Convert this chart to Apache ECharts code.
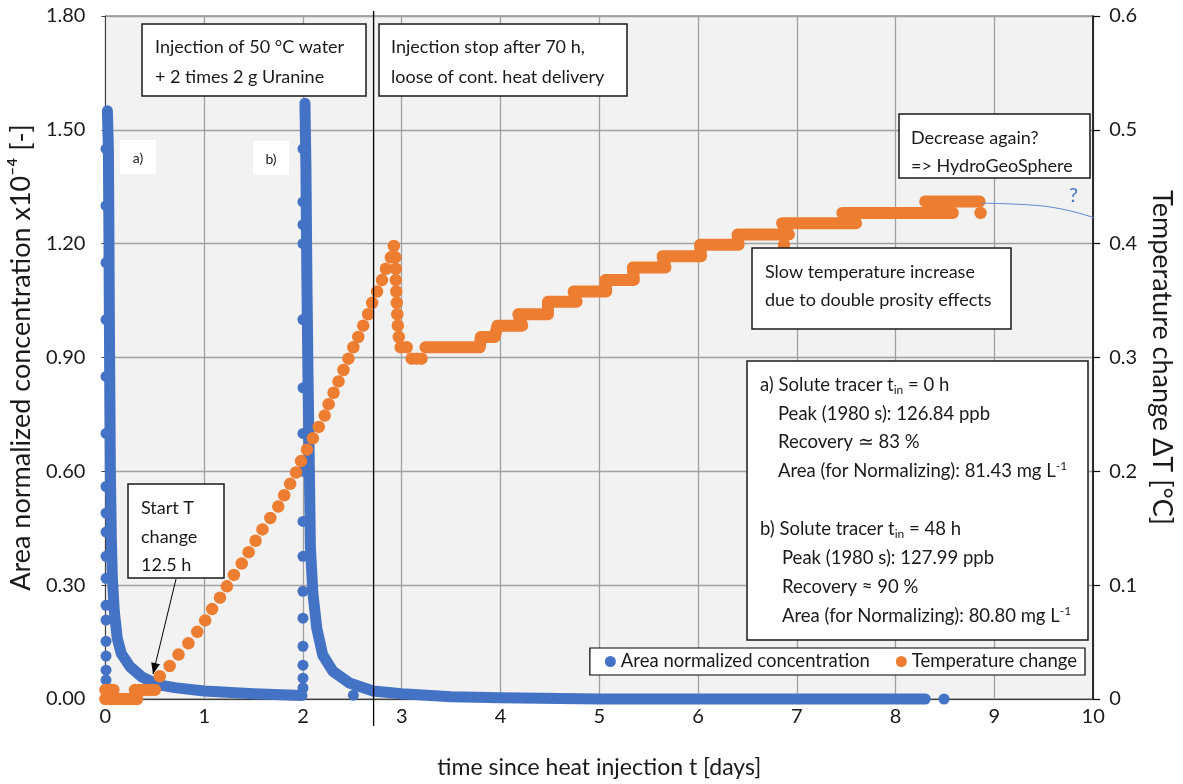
<!DOCTYPE html>
<html><head><meta charset="utf-8">
<script src="https://cdn.jsdelivr.net/npm/echarts@6/dist/echarts.min.js"></script>
<style>html,body{margin:0;padding:0;background:#fff}#c{width:1183px;height:784px}</style>
</head><body><div id="c"></div>
<script>
// ---------- data ----------
const xTicks = [0,1,2,3,4,5,6,7,8,9,10];
const leftTicks = [0,0.3,0.6,0.9,1.2,1.5,1.8];
const rightTicks = [0,0.1,0.2,0.3,0.4,0.5,0.6];
const stopLineT = 2.715;

// Area normalized concentration (x1e-4) [t days, value]
const concRiseA = [[0.006,0.05],[0.006,0.076],[0.006,0.113],[0.006,0.152],[0.006,0.208],[0.006,0.247],[0.006,0.318],[0.006,0.376],[0.006,0.44],[0.006,0.49],[0.006,0.56],[0.006,0.7],[0.006,0.85],[0.006,1.0],[0.006,1.15],[0.006,1.3],[0.006,1.45]];
const concDecayA = [[0.02,1.55],[0.03,1.45],[0.035,1.25],[0.04,1.0],[0.045,0.8],[0.05,0.6],[0.06,0.42],[0.07,0.32],[0.09,0.23],[0.12,0.16],[0.16,0.12],[0.25,0.085],[0.37,0.058],[0.53,0.038],[0.7,0.03],[1.0,0.021],[1.5,0.014],[1.99,0.009]];
const concRiseB = [[2.0,0.029],[2.0,0.055],[2.0,0.089],[2.0,0.139],[2.0,0.213],[2.0,0.284],[2.0,0.376],[2.0,0.468],[2.0,0.6],[2.0,0.7],[2.0,0.82],[2.0,1.0],[2.0,1.2],[2.0,1.25],[2.0,1.31],[2.0,1.45]];
const concDecayB = [[2.02,1.57],[2.03,1.4],[2.04,1.1],[2.05,0.87],[2.065,0.6],[2.075,0.4],[2.1,0.28],[2.14,0.186],[2.2,0.116],[2.3,0.074],[2.47,0.042],[2.71,0.021],[3.0,0.014],[3.5,0.006],[4.0,0.003],[5.0,0.0],[6.0,0.0],[7.0,0.0],[8.0,0.0],[8.3,0.0]];
const concStray = [[2.51,0.01],[8.49,0.0]];

// Temperature change [t days, dT °C]
const tempEarly = [[0.0,0.008],[0.03,0.008],[0.06,0.008],[0.08,0.008],[0.0,0.0],[0.04,0.0],[0.08,0.0],[0.12,0.0],[0.16,0.0],[0.2,0.0],[0.24,0.0],[0.28,0.0],[0.32,0.0],[0.3,0.008],[0.34,0.008],[0.38,0.008],[0.42,0.008],[0.46,0.008],[0.5,0.008]];
const tempRise = [[0.55,0.020],[0.65,0.029],[0.74,0.039],[0.84,0.049],[0.93,0.059],[1.01,0.069],[1.08,0.079],[1.16,0.089],[1.23,0.099],[1.30,0.109],[1.38,0.119],[1.45,0.129],[1.52,0.139],[1.59,0.149],[1.67,0.159],[1.75,0.169],[1.81,0.179],[1.87,0.189],[1.93,0.199],[1.98,0.209],[2.04,0.219],[2.10,0.229],[2.16,0.239],[2.22,0.249],[2.26,0.259],[2.31,0.269],[2.36,0.279],[2.41,0.289],[2.46,0.299],[2.51,0.309],[2.56,0.318],[2.61,0.328],[2.66,0.338],[2.70,0.348],[2.75,0.358],[2.80,0.368],[2.84,0.378],[2.89,0.388],[2.92,0.398]];
const tempFall = [[2.935,0.388],[2.94,0.378],[2.94,0.368],[2.945,0.358],[2.95,0.348],[2.955,0.338],[2.96,0.328],[2.97,0.318],[2.99,0.309],[3.05,0.309],[3.1,0.299],[3.15,0.299],[3.2,0.299]];
const tempPlateau = [[3.24,0.309],[3.79,0.309],[3.80,0.318],[3.94,0.318],[3.97,0.328],[4.22,0.328],[4.18,0.338],[4.48,0.338],[4.48,0.349],[4.77,0.349],[4.74,0.358],[5.07,0.358],[5.06,0.368],[5.35,0.368],[5.34,0.379],[5.67,0.379],[5.64,0.389],[6.03,0.389],[6.02,0.399],[6.41,0.399],[6.40,0.408],[6.92,0.408],[6.85,0.418],[7.6,0.418],[7.46,0.427],[8.58,0.427],[8.3,0.437],[8.85,0.437]];
const tempStray = [[6.87,0.399],[8.86,0.427]];
const extrapolation = [[8.87,0.4355],[9.44,0.4335],[10.05,0.4215]];

// ---------- chart ----------
const FONT = 'Lato';
const BLUE = '#4472c4', ORANGE = '#ed7d31', TXT = '#1a1a1a';
const chart = echarts.init(document.getElementById('c'), null, {renderer:'canvas'});

const option = {
  animation:false,
  backgroundColor:'#ffffff',
  textStyle:{fontFamily:FONT},
  grid:{left:104,right:88,top:16,bottom:83,show:true,backgroundColor:'#f2f2f2',borderColor:'#595959',borderWidth:1},
  legend:{
    data:[{name:'Area normalized concentration',icon:'circle'},{name:'Temperature change',icon:'circle'}],
    right:98, top:648, orient:'horizontal',
    backgroundColor:'#ffffff', borderColor:'#000', borderWidth:1.2, borderRadius:0,
    padding:[4,8,4,15], itemGap:26, itemWidth:11, itemHeight:11,
    textStyle:{fontFamily:FONT,fontSize:18.5,color:TXT}
  },
  xAxis:{
    type:'value', min:xTicks[0], max:xTicks[xTicks.length-1], interval:1,
    name:'time since heat injection t [days]', nameLocation:'middle', nameGap:57,
    nameTextStyle:{fontFamily:FONT,fontSize:23,color:TXT},
    axisLine:{show:true,onZero:false,lineStyle:{color:'#404040',width:1}},
    axisTick:{show:false},
    axisLabel:{fontFamily:FONT,fontSize:20,color:TXT,margin:8},
    splitLine:{show:true,lineStyle:{color:'#a0a0a0',width:1.3}}
  },
  yAxis:[{
    type:'value', min:leftTicks[0], max:leftTicks[leftTicks.length-1], interval:0.3,
    name:'Area normalized concentration x10\u207B\u2074 [-]', nameLocation:'middle', nameRotate:90, nameGap:66,
    nameTextStyle:{fontFamily:FONT,fontSize:27,color:TXT},
    axisLine:{show:true,lineStyle:{color:'#404040'}},
    axisTick:{show:true,length:4,lineStyle:{color:'#404040'}},
    axisLabel:{fontFamily:FONT,fontSize:20,color:TXT,margin:20,formatter:v=>v.toFixed(2)},
    splitLine:{show:true,lineStyle:{color:'#a0a0a0',width:1.3}}
  },{
    type:'value', min:rightTicks[0], max:rightTicks[rightTicks.length-1], interval:0.1, position:'right',
    name:'Temperature change \u0394T [\u00B0C]', nameLocation:'middle', nameRotate:-90, nameGap:54,
    nameTextStyle:{fontFamily:FONT,fontSize:27,color:TXT},
    axisLine:{show:true,lineStyle:{color:'#000',width:1.5}},
    axisTick:{show:true,length:7,lineStyle:{color:'#000',width:1.2}},
    axisLabel:{fontFamily:FONT,fontSize:20,color:TXT,margin:16,formatter:v=>String(+v.toFixed(1))},
    splitLine:{show:false}
  }],
  series:[
    {name:'Area normalized concentration',type:'line',data:concDecayA,yAxisIndex:0,symbol:'none',clip:false,z:2,
      lineStyle:{width:11,color:BLUE,cap:'round',join:'round'},itemStyle:{color:BLUE}},
    {name:'Area normalized concentration',type:'line',data:concDecayB,yAxisIndex:0,symbol:'none',clip:false,z:2,
      lineStyle:{width:11,color:BLUE,cap:'round',join:'round'},itemStyle:{color:BLUE}},
    {name:'Area normalized concentration',type:'scatter',data:concRiseA.concat(concRiseB,concStray),yAxisIndex:0,clip:false,z:2,
      symbolSize:11,itemStyle:{color:BLUE,opacity:1}},
    {name:'Temperature change',type:'scatter',data:tempEarly.concat(tempRise,tempFall,tempStray),yAxisIndex:1,clip:false,z:3,
      symbolSize:12.5,itemStyle:{color:ORANGE,opacity:1}},
    {name:'Temperature change',type:'line',data:tempPlateau,yAxisIndex:1,symbol:'none',clip:false,z:3,
      lineStyle:{width:12,color:ORANGE,cap:'round',join:'round'},itemStyle:{color:ORANGE}},
    {name:'HGS extrapolation',type:'line',data:extrapolation,yAxisIndex:1,symbol:'none',smooth:true,clip:false,z:4,
      lineStyle:{width:1,color:'#5b8ad6'}}
  ]
};
chart.setOption(option);

// ---------- annotations ----------
const g = [];
function rect(x,y,w,h,border){
  g.push({type:'rect',shape:{x:x,y:y,width:w,height:h},z:20,
    style:{fill:'#ffffff',stroke:border?'#1a1a1a':null,lineWidth:border?1.5:0}});
}
function txt(x,y,text,size,extra){
  g.push({type:'text',x:x,y:y,z:21,style:Object.assign({text:text,font:size+'px '+FONT,fill:TXT,verticalAlign:'middle',align:'left'},extra||{})});
}
const rich = {
  n:{fontSize:18.5,fontFamily:FONT,fill:TXT,lineHeight:22},
  sub:{fontSize:12,fontFamily:FONT,fill:TXT,verticalAlign:'bottom',lineHeight:22,padding:[9,0,0,0]},
  sup:{fontSize:12,fontFamily:FONT,fill:TXT,verticalAlign:'top',lineHeight:22,padding:[0,0,9,0]}
};
function rtxt(x,y,text){
  g.push({type:'text',x:x,y:y,z:21,style:{text:text,rich:rich,verticalAlign:'middle',align:'left',font:'18.5px '+FONT,fill:TXT}});
}

// stop-of-injection vertical line
const xStop = chart.convertToPixel({xAxisIndex:0}, stopLineT);
g.push({type:'line',z:19,shape:{x1:xStop,y1:11,x2:xStop,y2:726},style:{stroke:'#000',lineWidth:1.3}});

rect(142,24,224,72,true);
txt(155,47,'Injection of 50 \u00B0C water',18);
txt(155,77,'+ 2 times 2 g Uranine',18);

rect(379,24,248,72,true);
txt(391,47,'Injection stop after 70 h,',18);
txt(391,77,'loose of cont. heat delivery',18);

rect(120,140,36,34,false);
txt(138,158,'a)',14,{align:'center'});
rect(253,141,36,34,false);
txt(271,159,'b)',14,{align:'center'});

rect(899,114,191,64,true);
txt(911,138,'Decrease again?',18);
txt(911,166,'=> HydroGeoSphere',18);
txt(1069,196,'?',20,{fill:'#4472c4'});

rect(752,248,259,81,true);
txt(765,272,'Slow temperature increase',18);
txt(765,300,'due to double prosity effects',18);

rect(747,361,341,279,true);
rtxt(760,385,'{n|a) Solute tracer t}{sub|in}{n| = 0 h}');
rtxt(778,414,'{n|Peak (1980 s): 126.84 ppb}');
rtxt(778,442,'{n|Recovery \u2243 83 %}');
rtxt(778,471,'{n|Area (for Normalizing): 81.43 mg L}{sup|-1}');
rtxt(760,529,'{n|b) Solute tracer t}{sub|in}{n| = 48 h}');
rtxt(782,558,'{n|Peak (1980 s): 127.99 ppb}');
rtxt(782,587,'{n|Recovery \u2248 90 %}');
rtxt(782,616,'{n|Area (for Normalizing): 80.80 mg L}{sup|-1}');

rect(128,484,96,94,true);
txt(141,508,'Start T',18);
txt(141,537,'change',18);
txt(141,565,'12.5 h',18);

// arrow
(function(){
  const x1=176,y1=579,x2=153,y2=674;
  g.push({type:'line',z:22,shape:{x1:x1,y1:y1,x2:x2,y2:y2},style:{stroke:'#000',lineWidth:1}});
  const dx=x2-x1, dy=y2-y1, L=Math.sqrt(dx*dx+dy*dy), ux=dx/L, uy=dy/L, px=-uy, py=ux;
  const hl=11, hw=4.5;
  g.push({type:'polygon',z:22,shape:{points:[[x2,y2],[x2-ux*hl+px*hw,y2-uy*hl+py*hw],[x2-ux*hl-px*hw,y2-uy*hl-py*hw]]},style:{fill:'#000'}});
})();

chart.setOption({graphic:g});
</script></body></html>
